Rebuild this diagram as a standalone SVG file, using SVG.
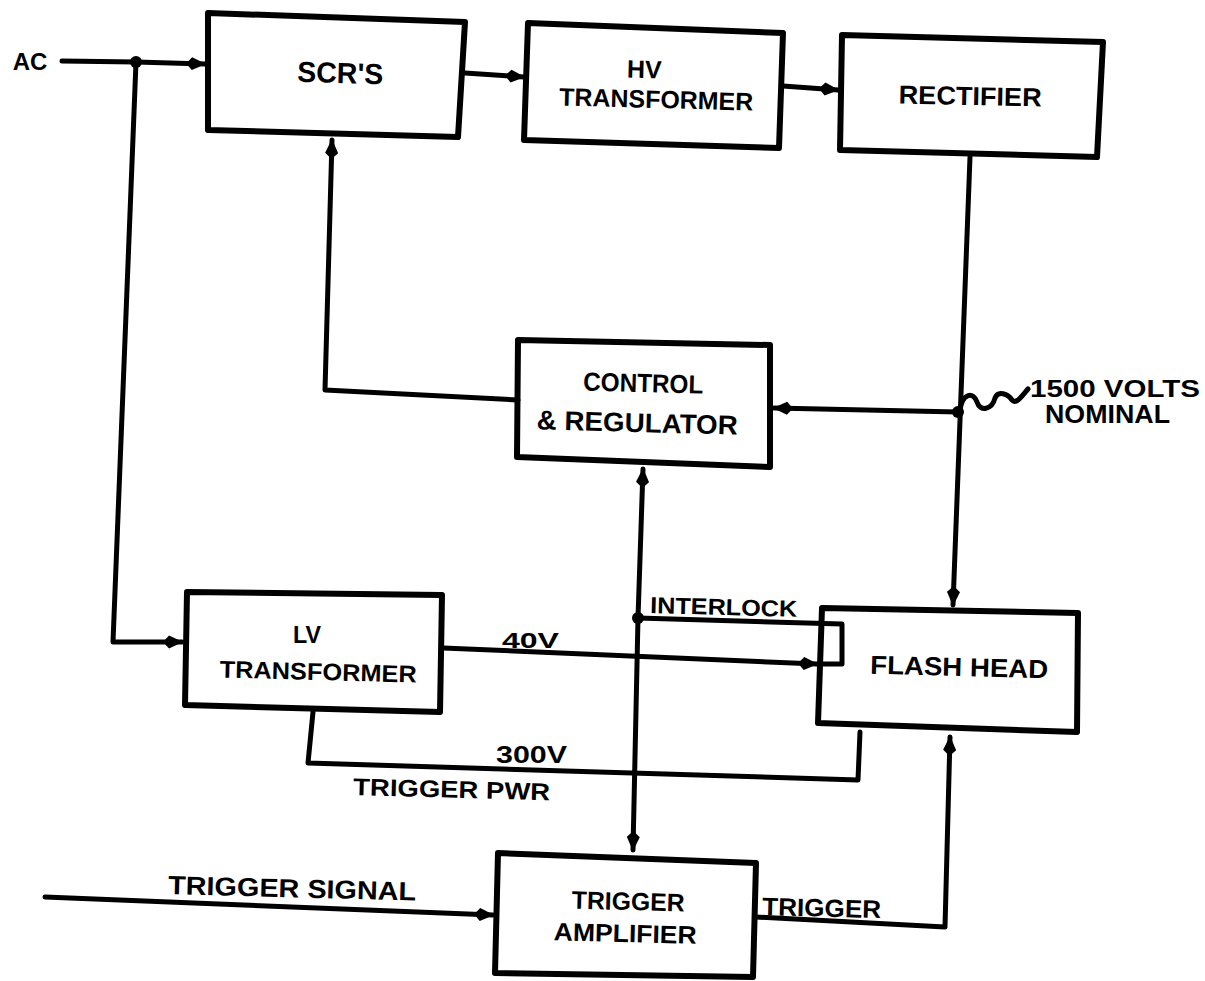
<svg xmlns="http://www.w3.org/2000/svg" width="1205" height="981" viewBox="0 0 1205 981">
<style>
.box{fill:#fff;stroke:#000;stroke-width:6;stroke-linejoin:round}
.ln{fill:none;stroke:#000;stroke-width:5;stroke-linejoin:round;stroke-linecap:round}
.t{font-family:"Liberation Sans",Arial,sans-serif;font-weight:bold;fill:#000;text-anchor:middle}
.s{text-anchor:start}
</style>
<defs>
<marker id="arr" viewBox="0 0 20 16" refX="19" refY="8" markerWidth="20" markerHeight="16" markerUnits="userSpaceOnUse" orient="auto">
<path d="M0,8 L6,1.5 L20,8 L6,14.5 Z" fill="#000"/>
</marker>
</defs>
<rect width="1205" height="981" fill="#fff"/>
<g id="ac"><text class="t" x="30" y="70" font-size="24">AC</text></g>
<g id="scr">
<polygon class="box" points="208,13 465,22 458,137 208,130"/>
<text class="t" x="340" y="83" font-size="29" textLength="86" lengthAdjust="spacingAndGlyphs" transform="rotate(1.5 340 83)">SCR'S</text>
</g>
<g id="hv">
<polygon class="box" points="528,23 783,33 779,148 524,140"/>
<text class="t" x="644" y="78" font-size="25" transform="rotate(1.5 644 78)">HV</text>
<text class="t" x="656" y="108" font-size="25" textLength="194" lengthAdjust="spacingAndGlyphs" transform="rotate(1.5 656 108)">TRANSFORMER</text>
</g>
<g id="rect">
<polygon class="box" points="842,35 1103,42 1097,157 840,150"/>
<text class="t" x="970" y="105" font-size="26" textLength="143" lengthAdjust="spacingAndGlyphs" transform="rotate(1.2 970 105)">RECTIFIER</text>
</g>
<g id="control">
<polygon class="box" points="518,340 770,345 770,467 517,457"/>
<text class="t" x="643" y="392" font-size="26" textLength="120" lengthAdjust="spacingAndGlyphs" transform="rotate(1.5 643 392)">CONTROL</text>
<text class="t" x="637" y="432" font-size="27" textLength="201" lengthAdjust="spacingAndGlyphs" transform="rotate(1.5 637 432)">&amp; REGULATOR</text>
</g>
<g id="volts">
<text class="t s" x="1030" y="397" font-size="24" textLength="170" lengthAdjust="spacingAndGlyphs">1500 VOLTS</text>
<text class="t s" x="1045" y="423" font-size="25" textLength="125" lengthAdjust="spacingAndGlyphs">NOMINAL</text>
</g>
<g id="lv">
<polygon class="box" points="187,592 442,595 440,712 185,705"/>
<text class="t" x="307" y="643" font-size="23" textLength="28" lengthAdjust="spacingAndGlyphs">LV</text>
<text class="t" x="318" y="680" font-size="24" textLength="197" lengthAdjust="spacingAndGlyphs" transform="rotate(1.5 318 680)">TRANSFORMER</text>
</g>
<g id="flash">
<polygon class="box" points="822,608 1078,613 1077,732 818,723"/>
<text class="t" x="959" y="676" font-size="26" textLength="178" lengthAdjust="spacingAndGlyphs" transform="rotate(1.5 959 676)">FLASH HEAD</text>
</g>
<g id="trigamp">
<polygon class="box" points="498,853 756,863 753,977 495,973"/>
<text class="t" x="628" y="910" font-size="25" textLength="113" lengthAdjust="spacingAndGlyphs" transform="rotate(1.5 628 910)">TRIGGER</text>
<text class="t" x="625" y="942" font-size="25" textLength="143" lengthAdjust="spacingAndGlyphs" transform="rotate(1.5 625 942)">AMPLIFIER</text>
</g>
<g id="labels">
<text class="t s" x="502" y="648" font-size="22" textLength="57" lengthAdjust="spacingAndGlyphs">40V</text>
<text class="t s" x="650" y="613" font-size="23" textLength="147" lengthAdjust="spacingAndGlyphs" transform="rotate(1.5 650 613)">INTERLOCK</text>
<text class="t s" x="496" y="763" font-size="23" textLength="71" lengthAdjust="spacingAndGlyphs">300V</text>
<text class="t s" x="353" y="795" font-size="24" textLength="197" lengthAdjust="spacingAndGlyphs" transform="rotate(1.5 353 795)">TRIGGER PWR</text>
<text class="t s" x="168" y="894" font-size="26" textLength="248" lengthAdjust="spacingAndGlyphs" transform="rotate(1.5 168 894)">TRIGGER SIGNAL</text>
<text class="t s" x="762" y="915" font-size="25" textLength="119" lengthAdjust="spacingAndGlyphs" transform="rotate(1.5 762 915)">TRIGGER</text>
</g>
<g id="connectors">
<path class="ln" d="M62,61 L136,62 L205,64" marker-end="url(#arr)"/>
<path class="ln" d="M136,62 L113,642 L182,642" marker-end="url(#arr)"/>
<path class="ln" d="M465,73 L524,77" marker-end="url(#arr)"/>
<path class="ln" d="M783,86 L838,90" marker-end="url(#arr)"/>
<path class="ln" d="M970,157 L953,605" marker-end="url(#arr)"/>
<path class="ln" d="M958,412 L774,408" marker-end="url(#arr)"/>
<path class="ln" d="M518,400 L325,390 L332,140" marker-end="url(#arr)"/>
<path class="ln" d="M638,618 L643,469" marker-end="url(#arr)"/>
<path class="ln" d="M638,618 L633,850" marker-end="url(#arr)"/>
<path class="ln" d="M638,618 L842,624 L842,664 L822,664"/>
<path class="ln" d="M443,648 L817,664" marker-end="url(#arr)"/>
<path class="ln" d="M313,712 L308,763 L858,780 L860,732"/>
<path class="ln" d="M45,897 L493,915" marker-end="url(#arr)"/>
<path class="ln" d="M756,917 L945,927 L950,737" marker-end="url(#arr)"/>
<path class="ln" d="M960,411 C962,392 974,392 977,402 C980,412 992,410 995,398 C998,390 1008,394 1012,400 C1016,405 1022,396 1028,389"/>
<circle cx="136" cy="62" r="6"/>
<circle cx="958" cy="412" r="6"/>
<circle cx="638" cy="618" r="6"/>
</g>
</svg>
